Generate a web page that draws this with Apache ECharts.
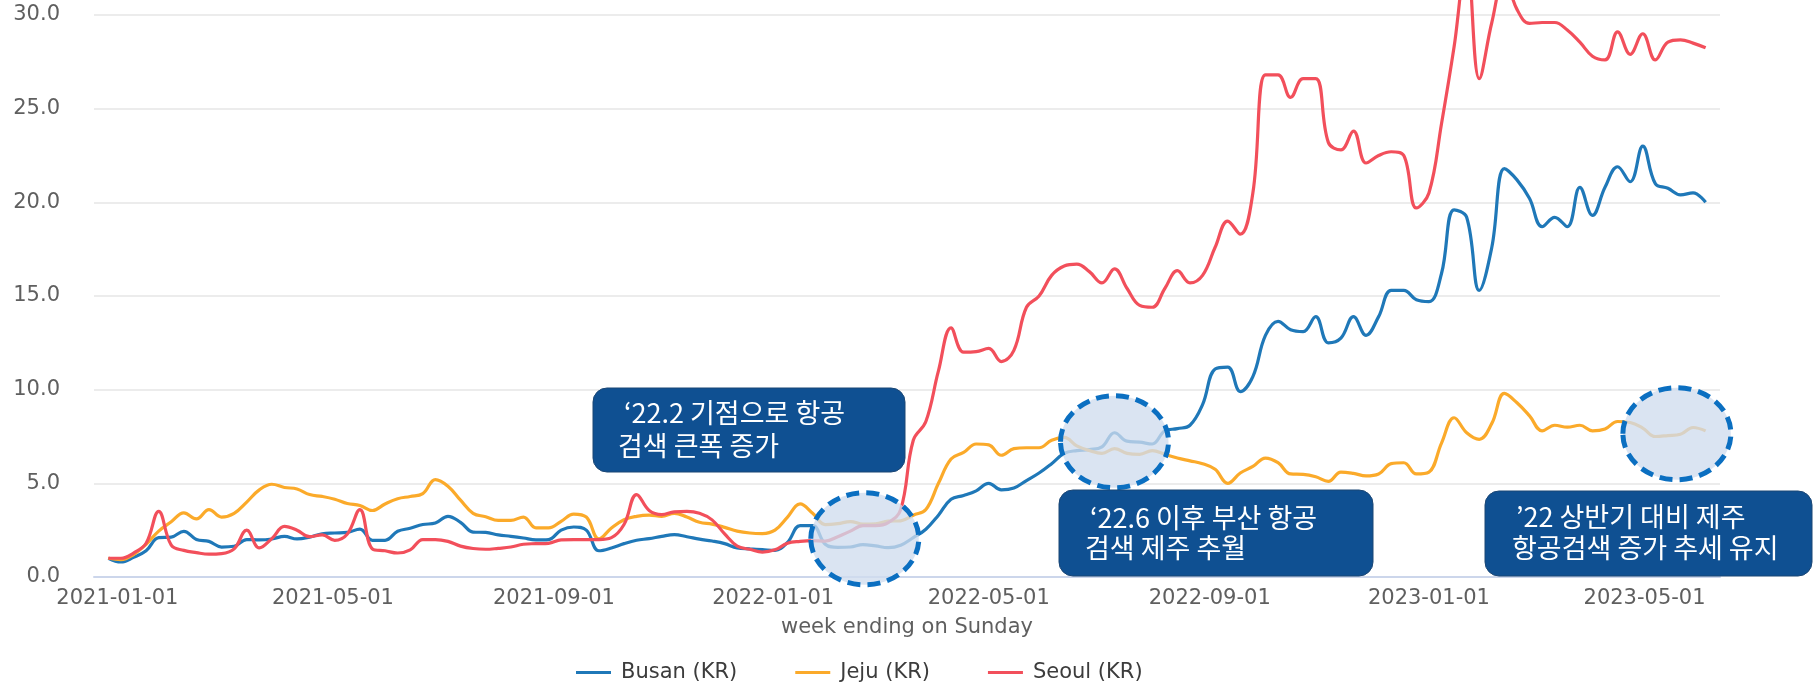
<!DOCTYPE html>
<html>
<head>
<meta charset="utf-8">
<script src="https://cdn.jsdelivr.net/npm/echarts@6/dist/echarts.min.js"></script>
<style>
	html, body { margin: 0; padding: 0; background: #fff; }
	#e_chart_1 { width: 1816px; height: 685px; }
</style>
</head>
<body>
<div id="e_chart_1"></div>
<script>
// weekly values, first week ends on Sunday 2020-12-27
var firstWeek = '2020-12-27';

var busan = [1.0, 0.8, 1.05, 1.4, 2.1, 2.13, 2.44, 2.0, 1.9, 1.6,
	1.64, 2.0, 1.98, 2.03, 2.17, 2.03, 2.13, 2.31, 2.35, 2.38,
	2.56, 1.96, 1.96, 2.44, 2.6, 2.8, 2.88, 3.24, 2.92, 2.4,
	2.38, 2.25, 2.17, 2.08, 1.98, 2.0, 2.5, 2.67, 2.5, 1.4,
	1.55, 1.78, 1.96, 2.05, 2.17, 2.26, 2.15, 2.02, 1.92, 1.78,
	1.55, 1.5, 1.46, 1.42, 1.85, 2.74, 2.74, 1.75, 1.58, 1.6,
	1.73, 1.66, 1.57, 1.7, 2.1, 2.55, 3.3, 4.15, 4.35, 4.6,
	5.0, 4.65, 4.75, 5.15, 5.55, 6.05, 6.6, 6.75, 6.8, 6.95,
	7.7, 7.25, 7.2, 7.1, 7.8, 7.92, 8.1, 9.2, 11.1, 11.2,
	9.9, 10.7, 12.9, 13.65, 13.2, 13.1, 13.9, 12.5, 12.75, 13.9,
	12.9, 13.9, 15.3, 15.3, 14.8, 14.7, 16.2, 19.6, 19.2, 15.3,
	17.6, 21.8, 21.2, 20.2, 18.7, 19.2, 18.7, 20.8, 19.3, 20.8,
	21.9, 21.1, 23.0, 21.0, 20.75, 20.4, 20.5, 20.0];

var jeju = [1.0, 0.93, 1.2, 1.75, 2.45, 2.95, 3.42, 3.1, 3.6, 3.2,
	3.4, 4.0, 4.65, 4.95, 4.78, 4.7, 4.4, 4.3, 4.15, 3.92,
	3.82, 3.55, 3.9, 4.18, 4.3, 4.45, 5.2, 4.85, 4.1, 3.4,
	3.22, 3.02, 3.02, 3.2, 2.62, 2.62, 2.97, 3.36, 3.2, 2.03,
	2.62, 3.06, 3.24, 3.3, 3.24, 3.4, 3.2, 2.92, 2.82, 2.65,
	2.45, 2.35, 2.32, 2.5, 3.2, 3.9, 3.4, 2.8, 2.85, 2.96,
	2.82, 2.84, 2.98, 3.0, 3.3, 3.6, 5.0, 6.3, 6.65, 7.1,
	7.05, 6.5, 6.85, 6.9, 6.9, 7.3, 7.45, 7.0, 6.75, 6.6,
	6.85, 6.6, 6.55, 6.75, 6.55, 6.35, 6.2, 6.05, 5.75, 5.0,
	5.55, 5.9, 6.35, 6.1, 5.5, 5.48, 5.35, 5.1, 5.6, 5.53,
	5.4, 5.5, 6.05, 6.1, 5.5, 5.6, 7.15, 8.5, 7.7, 7.35,
	8.2, 9.8, 9.3, 8.6, 7.8, 8.1, 8.0, 8.1, 7.8, 7.9,
	8.3, 8.25, 7.95, 7.5, 7.55, 7.62, 7.98, 7.8];

var seoul = [1.0, 1.0, 1.28, 1.8, 3.5, 1.7, 1.42, 1.3, 1.22, 1.25,
	1.5, 2.5, 1.55, 2.05, 2.7, 2.5, 2.15, 2.25, 1.96, 2.3,
	3.6, 1.5, 1.4, 1.28, 1.45, 2.0, 2.0, 1.9, 1.65, 1.52,
	1.48, 1.53, 1.6, 1.75, 1.78, 1.8, 1.98, 2.0, 2.0, 2.0,
	2.1, 2.8, 4.4, 3.55, 3.33, 3.48, 3.5, 3.4, 3.05, 2.3,
	1.65, 1.48, 1.33, 1.45, 1.8, 1.9, 1.94, 1.92, 2.15, 2.45,
	2.74, 2.74, 2.9, 3.6, 7.3, 8.3, 11.0, 13.3, 12.0, 12.03,
	12.2, 11.5, 12.1, 14.4, 15.0, 16.1, 16.6, 16.7, 16.3, 15.7,
	16.45, 15.4, 14.5, 14.4, 15.4, 16.35, 15.7, 16.1, 17.6, 19.0,
	18.3, 20.5, 26.8, 26.8, 25.6, 26.6, 26.6, 23.2, 22.8, 23.8,
	22.1, 22.5, 22.7, 22.5, 19.7, 20.5, 24.2, 28.3, 33.0, 26.6,
	29.6, 32.0, 30.3, 29.55, 29.6, 29.6, 29.2, 28.55, 27.8, 27.6,
	29.1, 27.9, 29.0, 27.6, 28.55, 28.67, 28.5, 28.25];

var tickDates = ['2021-01-01', '2021-05-01', '2021-09-01', '2022-01-01',
	'2022-05-01', '2022-09-01', '2023-01-01', '2023-05-01'];

var seriesNames = ['Busan (KR)', 'Jeju (KR)', 'Seoul (KR)'];

function toTime(s) {
	var p = s.split('-');
	return new Date(+p[0], +p[1] - 1, +p[2]).getTime();
}

function pad(n) {
	return n < 10 ? '0' + n : '' + n;
}

var start = firstWeek.split('-');
var weeks = [];
for (var i = 0; i < busan.length; i++) {
	weeks.push(new Date(+start[0], +start[1] - 1, +start[2] + 7 * i).getTime());
}

function pairs(values) {
	return values.map(function (v, i) {
		return [weeks[i], v];
	});
}

var font = "'DejaVu Sans', sans-serif";
var dom = document.getElementById("e_chart_1");
var myChart = echarts.init(dom);
var option = {
	animation: false,
	color: ['#1f78b8', '#fbaa2a', '#f24f5b'],
	grid: {
		left: 94,
		right: 96,
		top: 15,
		bottom: 108,
		containLabel: false,
		outerBoundsMode: 'none'
	},
	legend: {
		data: seriesNames,
		left: 571,
		top: 657,
		icon: 'rect',
		itemWidth: 35,
		itemHeight: 3,
		itemGap: 58,
		textStyle: {
			color: '#3c3c3c',
			fontFamily: font,
			fontSize: 21,
			padding: [0, 0, 0, 5]
		}
	},
	xAxis: {
		// dates kept as timestamps on a value axis so the labels can sit on given days
		type: 'value',
		min: toTime('2020-12-19'),
		max: toTime('2023-06-12'),
		name: 'week ending on Sunday',
		nameLocation: 'middle',
		nameGap: 40,
		nameTextStyle: {
			color: '#5f5f5f',
			fontFamily: font,
			fontSize: 21
		},
		axisLine: {
			show: true,
			lineStyle: { color: '#ccd6eb', width: 2 }
		},
		axisTick: { show: false },
		splitLine: { show: false },
		axisLabel: {
			customValues: tickDates.map(toTime),
			margin: 11,
			color: '#5f5f5f',
			fontFamily: font,
			fontSize: 21,
			formatter: function (v) {
				var d = new Date(v);
				return d.getFullYear() + '-' + pad(d.getMonth() + 1) + '-' + pad(d.getDate());
			}
		}
	},
	yAxis: {
		type: 'value',
		min: 0,
		max: 30,
		interval: 5,
		axisLine: { show: false },
		axisTick: { show: false },
		axisLabel: {
			margin: 34,
			color: '#5f5f5f',
			fontFamily: font,
			fontSize: 21,
			formatter: function (v) {
				return v.toFixed(1);
			}
		},
		splitLine: {
			show: true,
			lineStyle: { color: '#e6e6e6', width: 1.5 }
		}
	},
	series: [busan, jeju, seoul].map(function (values, k) {
		return {
			name: seriesNames[k],
			type: 'line',
			data: pairs(values),
			smooth: 0.4,
			showSymbol: false,
			clip: false,
			lineStyle: { width: 3.2 }
		};
	})
};
myChart.setOption(option, true);

// dashed rings over the highlighted periods, anchored in data space
var rings = [['2022-02-21', 2.04], ['2022-07-10', 7.22], ['2023-05-19', 7.65]];
// note boxes: left, top, width, height, then [x, centre y, text] for each line
var notes = [
	[593, 388, 312, 84, [[624, 413, '‘22.2 기점으로 항공'], [618, 446, '검색 큰폭 증가']]],
	[1059, 490, 314, 86, [[1090, 518, '‘22.6 이후 부산 항공'], [1085, 548, '검색 제주 추월']]],
	[1485, 491, 327, 85, [[1516, 517, '’22 상반기 대비 제주'], [1512, 548, '항공검색 증가 추세 유지']]]
];

var graphics = [];
rings.forEach(function (r) {
	var p = myChart.convertToPixel({ gridIndex: 0 }, [toTime(r[0]), r[1]]);
	graphics.push({
		type: 'ellipse',
		z: 100,
		shape: { cx: p[0], cy: p[1], rx: 54, ry: 46 },
		style: {
			fill: 'rgba(208,221,238,0.78)',
			stroke: '#0b6fc1',
			lineWidth: 5,
			lineDash: [13, 7]
		}
	});
});
notes.forEach(function (n) {
	graphics.push({
		type: 'rect',
		z: 100,
		shape: { x: n[0], y: n[1], width: n[2], height: n[3], r: 14 },
		style: { fill: '#0f5092', stroke: '#1b4674', lineWidth: 1 }
	});
	n[4].forEach(function (line) {
		graphics.push({
			type: 'text',
			z: 101,
			style: {
				x: line[0],
				y: line[1],
				text: line[2],
				fill: '#ffffff',
				font: "27px 'Noto Sans CJK KR'",
				verticalAlign: 'middle'
			}
		});
	});
});
myChart.setOption({ graphic: graphics });
</script>
</body>
</html>
